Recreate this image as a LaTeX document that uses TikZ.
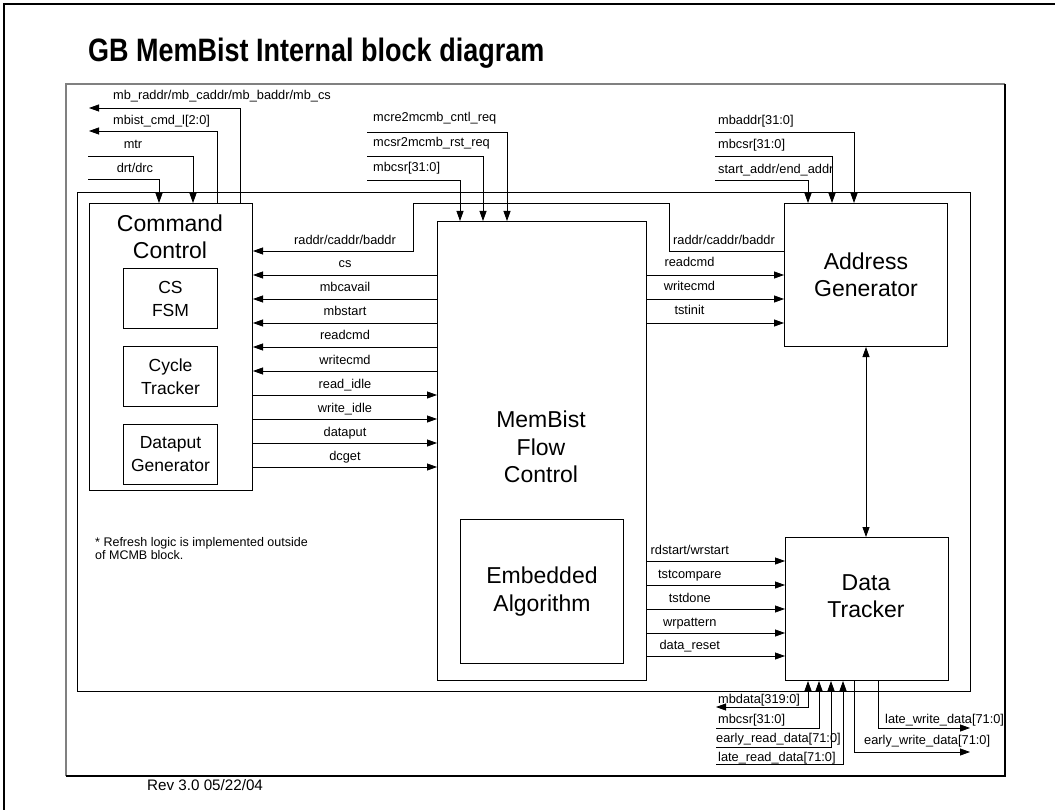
\documentclass[tikz,border=0pt]{standalone}
\usepackage{fontspec}
\setmainfont{Liberation Sans}
\usetikzlibrary{arrows.meta}

\begin{document}
\begin{tikzpicture}[x=1pt,y=-1pt,
    blk/.style={draw, line width=1pt, anchor=north west, inner sep=0pt, align=center},
    sig/.style={line width=0.8pt, -{Triangle[length=10pt,width=7pt]}},
    bisig/.style={line width=0.8pt, {Triangle[length=10pt,width=7pt]}-{Triangle[length=10pt,width=7pt]}},
    lbl/.style={font=\fontsize{12.8}{14}\selectfont, inner sep=0pt, anchor=base},
    big/.style={font=\fontsize{23}{27.5}\selectfont, align=center},
    small/.style={font=\fontsize{17.5}{23}\selectfont}]

    % Page edge and slide frame
    \useasboundingbox (0,0) rectangle (1055,810);
    \draw[line width=2.5pt] (4,810) -- (4,4) -- (1055,4);
    \draw[gray, line width=2pt] (66,776) -- (66,84) -- (1005,84);
    \draw[line width=1.3pt] (1005,84) -- (1005,776) -- (66,776);

    % Title and footer
    \node[anchor=base west, inner sep=0pt] (title) at (88,62) {\scalebox{1}[1.2]{\fontsize{27}{30}\selectfont\bfseries GB MemBist Internal block diagram}};
    \node[anchor=base west, inner sep=0pt, font=\fontsize{15.2}{17}\selectfont] (rev) at (147,790) {Rev 3.0 05/22/04};

    % MCMB block outline
    \node[blk, line width=0.9pt, minimum width=893pt, minimum height=499pt] (mcmb) at (77,192) {};

    % Command Control with its sub blocks
    \node[blk, minimum width=163pt, minimum height=287pt] (cmdctl) at (89,203) {};
    \node[big] (cmdtxt) at (170,237) {Command\\Control};
    \node[blk, small, minimum width=94pt, minimum height=60pt] (csfsm) at (123,268) {CS\\FSM};
    \node[blk, small, minimum width=94pt, minimum height=60pt] (cyctrk) at (123,346) {Cycle\\Tracker};
    \node[blk, small, minimum width=94pt, minimum height=60pt] (dpgen) at (123,424) {Dataput\\Generator};

    % MemBist Flow Control
    \node[blk, minimum width=209pt, minimum height=459pt] (flowctl) at (437,221) {};
    \node[big] (flowtxt) at (541,447) {MemBist\\Flow\\Control};
    \node[blk, big, minimum width=163pt, minimum height=144pt] (embalg) at (460,519) {Embedded\\Algorithm};

    % Address Generator and Data Tracker
    \node[blk, big, minimum width=163pt, minimum height=143pt] (addrgen) at (784,203) {Address\\Generator};
    \node[blk, minimum width=163pt, minimum height=143pt] (datatrk) at (785,537) {};
    \node[big] (dtxt) at (866,596) {Data\\Tracker};

    % Note (base is the last line)
    \node[anchor=base west, inner sep=0pt, align=left, font=\fontsize{12.5}{12.5}\selectfont] (note) at (95,559) {* Refresh logic is implemented outside\\of MCMB block.};

    % Top left signals of Command Control
    \coordinate (mbout) at (89,108);
    \coordinate (cmdout) at (89,131);
    \coordinate (mtrin) at (88,156);
    \coordinate (drtin) at (88,179);
    \draw[sig] ([xshift=151pt]cmdctl.north west) |- (mbout);
    \draw[sig] ([xshift=128pt]cmdctl.north west) |- (cmdout);
    \draw[sig] (mtrin) -| ([xshift=104pt]cmdctl.north west);
    \draw[sig] (drtin) -| ([xshift=70pt]cmdctl.north west);
    \node[lbl, anchor=base west] (mblbl) at (113,100) {mb\_raddr/mb\_caddr/mb\_baddr/mb\_cs};
    \node[lbl, anchor=base west] (cmdlbl) at (113,125) {mbist\_cmd\_l[2:0]};
    \node[lbl] (mtrlbl) at (133,149) {mtr};
    \node[lbl] (drtlbl) at (135,173) {drt/drc};

    % Requests into Flow Control
    \coordinate (cntlin) at (367,132);
    \coordinate (rstin) at (367,156);
    \coordinate (csrin) at (367,180);
    \draw[sig] (cntlin) -| ([xshift=70pt]flowctl.north west);
    \draw[sig] (rstin) -| ([xshift=46pt]flowctl.north west);
    \draw[sig] (csrin) -| ([xshift=23pt]flowctl.north west);
    \node[lbl, anchor=base west] (cntllbl) at (373,122) {mcre2mcmb\_cntl\_req};
    \node[lbl, anchor=base west] (rstlbl) at (373,147) {mcsr2mcmb\_rst\_req};
    \node[lbl, anchor=base west] (csrlbl) at (373,172) {mbcsr[31:0]};

    % Inputs of Address Generator
    \coordinate (addrin) at (715,132);
    \coordinate (acsrin) at (715,156);
    \coordinate (startin) at (715,180);
    \draw[sig] (addrin) -| ([xshift=70pt]addrgen.north west);
    \draw[sig] (acsrin) -| ([xshift=48pt]addrgen.north west);
    \draw[sig] (startin) -| ([xshift=24pt]addrgen.north west);
    \node[lbl, anchor=base west] (addrlbl) at (718,125) {mbaddr[31:0]};
    \node[lbl, anchor=base west] (acsrlbl) at (718,149) {mbcsr[31:0]};
    \node[lbl, anchor=base west] (startlbl) at (718,174) {start\_addr/end\_addr};

    % raddr/caddr/baddr from Address Generator to Command Control
    \coordinate (rcr) at (669,203);
    \coordinate (rcl) at (413,203);
    \draw[sig] ([yshift=-48pt]addrgen.north west) -| (rcr) -- (rcl) |- ([yshift=-48pt]cmdctl.north east);
    \node[lbl] (rclbl) at (345,245) {raddr/caddr/baddr};
    \node[lbl] (rcrlbl) at (724,245) {raddr/caddr/baddr};

    % Flow Control to Command Control
    \draw[sig] ([yshift=-54pt]flowctl.north west) coordinate (c1) -- (c1 -| cmdctl.east) node[lbl, midway, yshift=7pt] {cs};
    \draw[sig] ([yshift=-78pt]flowctl.north west) coordinate (c2) -- (c2 -| cmdctl.east) node[lbl, midway, yshift=7pt] {mbcavail};
    \draw[sig] ([yshift=-102pt]flowctl.north west) coordinate (c3) -- (c3 -| cmdctl.east) node[lbl, midway, yshift=7pt] {mbstart};
    \draw[sig] ([yshift=-126pt]flowctl.north west) coordinate (c4) -- (c4 -| cmdctl.east) node[lbl, midway, yshift=7pt] {readcmd};
    \draw[sig] ([yshift=-150pt]flowctl.north west) coordinate (c5) -- (c5 -| cmdctl.east) node[lbl, midway, yshift=7pt] {writecmd};

    % Command Control to Flow Control
    \draw[sig] ([yshift=-192pt]cmdctl.north east) coordinate (c6) -- (c6 -| flowctl.west) node[lbl, midway, yshift=7pt] {read\_idle};
    \draw[sig] ([yshift=-216pt]cmdctl.north east) coordinate (c7) -- (c7 -| flowctl.west) node[lbl, midway, yshift=7pt] {write\_idle};
    \draw[sig] ([yshift=-240pt]cmdctl.north east) coordinate (c8) -- (c8 -| flowctl.west) node[lbl, midway, yshift=7pt] {dataput};
    \draw[sig] ([yshift=-264pt]cmdctl.north east) coordinate (c9) -- (c9 -| flowctl.west) node[lbl, midway, yshift=7pt] {dcget};

    % Flow Control to Address Generator
    \draw[sig] ([yshift=-54pt]flowctl.north east) coordinate (a1) -- (a1 -| addrgen.west) node[lbl, pos=0.31, yshift=8pt] {readcmd};
    \draw[sig] ([yshift=-78pt]flowctl.north east) coordinate (a2) -- (a2 -| addrgen.west) node[lbl, pos=0.31, yshift=8pt] {writecmd};
    \draw[sig] ([yshift=-102pt]flowctl.north east) coordinate (a3) -- (a3 -| addrgen.west) node[lbl, pos=0.31, yshift=8pt] {tstinit};

    % Flow Control to Data Tracker
    \draw[sig] ([yshift=-340pt]flowctl.north east) coordinate (d1) -- (d1 -| datatrk.west) node[lbl, pos=0.31, yshift=7pt] {rdstart/wrstart};
    \draw[sig] ([yshift=-364pt]flowctl.north east) coordinate (d2) -- (d2 -| datatrk.west) node[lbl, pos=0.31, yshift=7pt] {tstcompare};
    \draw[sig] ([yshift=-388pt]flowctl.north east) coordinate (d3) -- (d3 -| datatrk.west) node[lbl, pos=0.31, yshift=7pt] {tstdone};
    \draw[sig] ([yshift=-412pt]flowctl.north east) coordinate (d4) -- (d4 -| datatrk.west) node[lbl, pos=0.31, yshift=7pt] {wrpattern};
    \draw[sig] ([yshift=-435pt]flowctl.north east) coordinate (d5) -- (d5 -| datatrk.west) node[lbl, pos=0.31, yshift=7pt] {data\_reset};

    % Address Generator <-> Data Tracker
    \draw[bisig] (addrgen.south) -- (addrgen.south |- datatrk.north);

    % Data Tracker bottom signals
    \coordinate (mbdout) at (716,707);
    \coordinate (dcsrin) at (716,728);
    \coordinate (erdin) at (716,747);
    \coordinate (lrdin) at (716,764);
    \coordinate (lwrout) at (970,728);
    \coordinate (ewrout) at (970,752);
    \draw[bisig] (mbdout) -| ([xshift=23pt]datatrk.south west);
    \draw[sig] (dcsrin) -| ([xshift=34pt]datatrk.south west);
    \draw[sig] (erdin) -| ([xshift=46pt]datatrk.south west);
    \draw[sig] (lrdin) -| ([xshift=58pt]datatrk.south west);
    \draw[sig] ([xshift=93pt]datatrk.south west) |- (lwrout);
    \draw[sig] ([xshift=69pt]datatrk.south west) |- (ewrout);
    \node[lbl, anchor=base west] (mbdlbl) at (718,703) {mbdata[319:0]};
    \node[lbl, anchor=base west] (dcsrlbl) at (718,723) {mbcsr[31:0]};
    \node[lbl, anchor=base west] (erdlbl) at (716,742) {early\_read\_data[71:0]};
    \node[lbl, anchor=base west] (lrdlbl) at (718,761) {late\_read\_data[71:0]};
    \node[lbl, anchor=base west] (lwrlbl) at (885,723) {late\_write\_data[71:0]};
    \node[lbl, anchor=base west] (ewrlbl) at (864,744) {early\_write\_data[71:0]};

\end{tikzpicture}
\end{document}
